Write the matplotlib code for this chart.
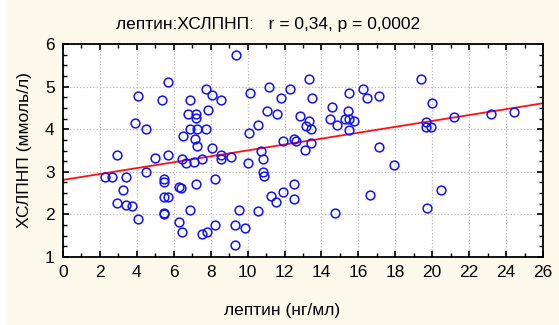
import numpy as np
import matplotlib.pyplot as plt
from matplotlib.ticker import MultipleLocator
from matplotlib.patches import Rectangle

plt.rcParams['font.family'] = ['Liberation Sans', 'DejaVu Sans']

# leptin (ng/ml) vs LDL cholesterol (mmol/l)
leptin = [
    5.67, 4.08, 5.35, 7.75, 8.05, 8.54, 6.88, 7.84, 6.79, 7.20,
    7.20, 3.90, 4.50, 6.88, 7.24, 7.75, 6.48, 7.15, 7.28, 8.05,
    9.37, 10.13, 11.18, 11.81, 12.30, 13.34, 13.51, 11.07, 11.61, 12.84,
    13.34, 13.16, 13.42, 10.58, 10.09, 11.94, 12.51, 12.62, 13.42, 13.09,
    10.71, 14.55, 14.46, 14.83, 15.46, 15.28, 15.51, 15.78, 15.51, 15.51,
    16.27, 16.49, 17.12, 17.12,
    19.41, 19.97, 19.65, 19.65, 19.92, 21.18, 23.19, 24.45,
    2.91, 4.98, 5.67, 6.46, 6.66, 7.10, 7.51, 8.54, 8.56, 9.10,
    4.50, 2.28, 2.64, 3.40, 3.23, 5.47, 5.47, 6.30, 6.38, 7.20,
    8.25, 2.91, 3.40, 3.75, 5.47, 5.71, 5.47, 5.47, 4.08, 6.88,
    6.30, 6.46, 7.51, 7.78, 8.25,
    10.82, 10.04, 10.82, 10.91, 12.51, 11.94, 11.25, 11.54, 12.51, 9.53,
    10.58, 9.30, 9.88, 9.30, 14.73, 16.63,
    17.95, 20.46, 19.70,
]
ldl = [
    5.10, 4.77, 4.68, 4.94, 4.80, 4.68, 4.68, 4.45, 4.36, 4.36,
    4.27, 4.14, 4.00, 4.00, 4.00, 4.00, 3.84, 3.77, 3.61, 3.57,
    5.74, 4.84, 5.00, 4.74, 4.94, 5.19, 4.74, 4.43, 4.36, 4.32,
    4.20, 4.08, 4.00, 4.09, 3.90, 3.72, 3.77, 3.73, 3.68, 3.52,
    3.50, 4.51, 4.23, 4.10, 4.43, 4.24, 4.23, 4.20, 3.98, 4.84,
    4.94, 4.74, 4.78, 3.59,
    5.19, 4.62, 4.18, 4.04, 4.04, 4.29, 4.36, 4.40,
    3.39, 3.33, 3.39, 3.30, 3.20, 3.23, 3.30, 3.40, 3.30, 3.34,
    3.00, 2.88, 2.88, 2.88, 2.57, 2.84, 2.77, 2.65, 2.61, 2.71,
    2.84, 2.27, 2.22, 2.19, 2.42, 2.42, 2.04, 2.00, 1.90, 2.10,
    1.81, 1.59, 1.55, 1.59, 1.74,
    3.30, 3.20, 3.00, 2.91, 2.72, 2.52, 2.43, 2.30, 2.35, 2.10,
    2.07, 1.74, 1.68, 1.29, 2.03, 2.46,
    3.16, 2.57, 2.16,
]

# fitted regression line
fit_intercept = 2.81
fit_slope = 0.0692

title = "лептин:ХСЛПНП:   r = 0,34, p = 0,0002"
x_label = "лептин (нг/мл)"
y_label = "ХСЛПНП (ммоль/л)"

W, H = 559, 325
bg = '#fdf8ec'
fig = plt.figure(figsize=(W / 100, H / 100), dpi=100, facecolor=bg)
fig.patches.append(Rectangle((0, 0), 7 / W, 1, transform=fig.transFigure,
                             facecolor='white', edgecolor='none', zorder=-1))

ax = fig.add_axes([63 / W, 1 - 257 / H, 480 / W, 213 / H])
ax.set_facecolor('white')

xs = np.array([0, 26])
ax.plot(xs, fit_intercept + fit_slope * xs, color='#ff1010', lw=1.3, zorder=2)
ax.plot(leptin, ldl, 'o', mfc='none', mec='#1010ff', mew=1.1, ms=6.3, zorder=3)

ax.set_xlim(0, 26)
ax.set_ylim(1, 6)
ax.xaxis.set_major_locator(MultipleLocator(2))
ax.xaxis.set_minor_locator(MultipleLocator(1))
ax.yaxis.set_major_locator(MultipleLocator(1))
ax.yaxis.set_minor_locator(MultipleLocator(0.25))
ax.tick_params(which='both', direction='in', top=True, right=True,
               labelsize=12.5, color='black')
ax.tick_params(which='major', length=4, width=1.2, pad=6)
ax.tick_params(which='minor', length=3, width=1)
ax.grid(True, which='major', linestyle=':', color='#b8b8b8', lw=0.9)
for s in ax.spines.values():
    s.set_linewidth(1.3)

fig.text(268 / W, 1 - 25 / H, title, ha='center', va='center', fontsize=12.5)
fig.text(282 / W, 1 - 311 / H, x_label, ha='center', va='center', fontsize=12.5)
fig.text(25 / W, 1 - 150 / H, y_label, ha='center', va='center',
         rotation=90, fontsize=12.5)

fig.savefig('out.png', dpi=100, facecolor=bg)
